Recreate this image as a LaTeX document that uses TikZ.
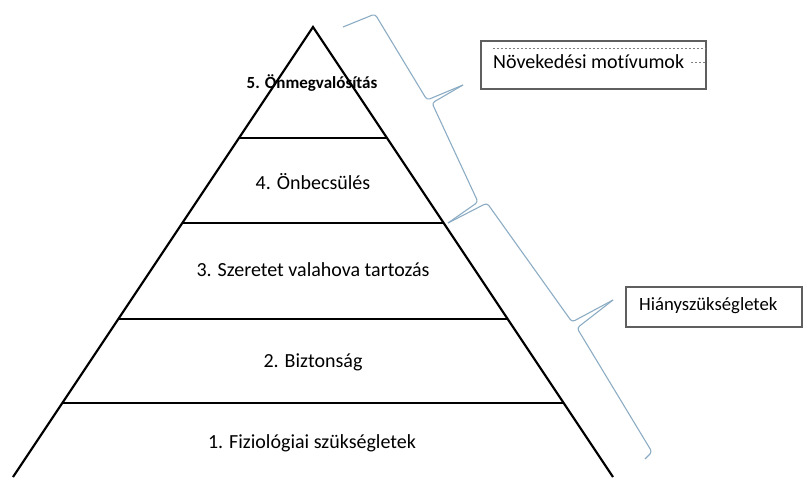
\documentclass[tikz,border=0pt]{standalone}
\usepackage{fontspec}
\setmainfont[Ligatures=NoCommon]{Carlito}
\definecolor{bracecol}{RGB}{140,172,196}
\definecolor{boxcol}{RGB}{95,95,95}
\tikzset{
  level/.style={line width=2.2pt,black},
  lbl/.style={inner sep=0pt,font=\fontsize{20}{23}\selectfont},
  curly/.style={draw=bracecol,line width=1.1pt,rounded corners=3pt},
  textbox/.style={draw=boxcol,line width=1.3pt},
  guide/.style={draw=gray,line width=.9pt,dash pattern=on 2pt off 2pt}
}
\begin{document}
\begin{tikzpicture}[x=1pt,y=-1pt]
  \useasboundingbox (0,0) rectangle (803,477);

  % pyramid sides and levels
  \path[draw,level] (13,477) -- (313,27) -- (613,477);
  \path[draw,level] (239,138) -- (387,138);
  \path[draw,level] (182.3,223) -- (443.7,223);
  \path[draw,level] (118.3,319) -- (507.7,319);
  \path[draw,level] (62.3,403) -- (563.7,403);

  \node[lbl,font=\fontsize{17}{20}\selectfont\bfseries] (top) at (312,83) {5. Önmegvalósítás};
  \node[lbl] (esteem) at (313,182) {4. Önbecsülés};
  \node[lbl] (love) at (313,270) {3. Szeretet valahova tartozás};
  \node[lbl] (safety) at (313,362) {2. Biztonság};
  \node[lbl] (physio) at (312,443) {1. Fiziológiai szükségletek};

  % braces
  \path[curly] (343,27) -- (375,14) -- (427,100) -- (463,85);
  \path[curly] (463,85) -- (432,103) -- (478,202) -- (448,223);
  \path[curly] (448,223) -- (487,203) -- (572,322) -- (613,300);
  \path[curly] (613,300) -- (577,328) -- (652,452) -- (645,459);

  % side boxes
  \path[textbox] (481,41) rectangle (706,89);
  \path[guide] (493,48) -- (706,48);
  \path[guide] (691,62) -- (706,62);
  \node[lbl,anchor=west] (growth) at (493,62) {Növekedési motívumok};

  \path[textbox] (626,287) rectangle (802,327);
  \node[lbl,anchor=west,font=\fontsize{18.7}{22}\selectfont] (deficit) at (639,306) {Hiányszükségletek};
\end{tikzpicture}
\end{document}
